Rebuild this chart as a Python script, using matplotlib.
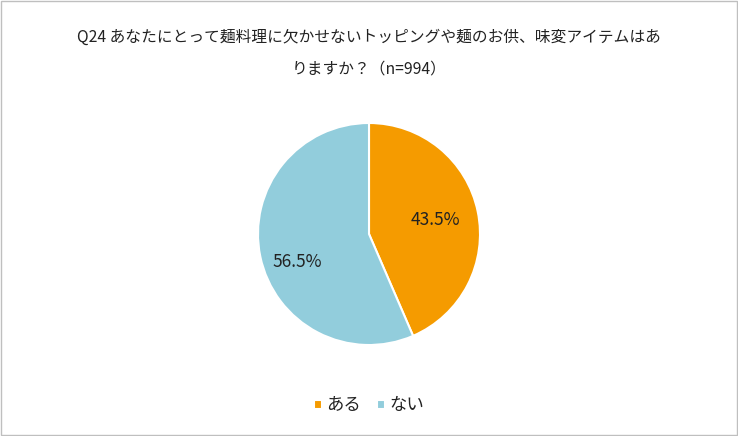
import matplotlib.pyplot as plt
from matplotlib.patches import Rectangle

plt.rcParams['font.family'] = ['Noto Sans CJK JP', 'DejaVu Sans']

labels = ['ある', 'ない']
values = [43.5, 56.5]
colors = ['#F59B00', '#92CDDC']
title = 'Q24 あなたにとって麺料理に欠かせないトッピングや麺のお供、味変アイテムはあ\nりますか？（n=994）'

fig = plt.figure(figsize=(7.38, 4.36), dpi=100)
fig.patches.append(Rectangle((0.001, 0.002), 0.997, 0.995, transform=fig.transFigure,
                             fill=False, edgecolor='#BFBFBF', linewidth=1))

fig.text(0.5, 0.878, title, ha='center', va='center', fontsize=11.3, color='#222222',
         linespacing=2.1)

ax = fig.add_axes([(369 - 111) / 738, (436 - 234 - 111) / 436, 222 / 738, 222 / 436])
wedges, texts, autotexts = ax.pie(values, colors=colors, startangle=90, counterclock=False,
                                  autopct='%.1f%%', pctdistance=0.61,
                                  wedgeprops=dict(edgecolor='white', linewidth=1.5),
                                  textprops=dict(fontsize=12.5, color='#222222'))
# Excel-style label spot for the larger slice
autotexts[1].set_position((-0.65, -0.25))
ax.set_xlim(-1, 1)
ax.set_ylim(-1, 1)

fig.legend(wedges, labels, loc='center', bbox_to_anchor=(0.5, 0.07), ncol=2, frameon=False,
           fontsize=12.5, handlelength=0.45, handleheight=0.45, handletextpad=0.25,
           columnspacing=0.9, labelcolor='#222222')

fig.savefig('out.png', dpi=100)
